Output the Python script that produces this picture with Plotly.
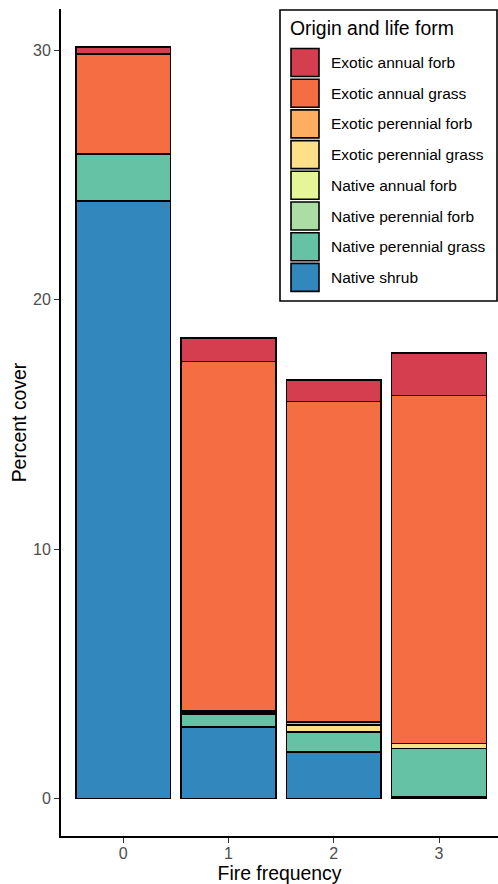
import plotly.graph_objects as go

# Fire frequency classes
fire_freq = ["0", "1", "2", "3"]

# Percent cover by origin and life form (legend order, top of stack first)
groups = [
    "Exotic annual forb",
    "Exotic annual grass",
    "Exotic perennial forb",
    "Exotic perennial grass",
    "Native annual forb",
    "Native perennial forb",
    "Native perennial grass",
    "Native shrub",
]
exotic_annual_forb = [0.29, 0.95, 0.88, 1.70]
exotic_annual_grass = [4.00, 14.00, 12.84, 13.96]
exotic_perennial_forb = [0.00, 0.04, 0.12, 0.00]
exotic_perennial_grass = [0.00, 0.05, 0.29, 0.20]
native_annual_forb = [0.00, 0.00, 0.00, 0.00]
native_perennial_forb = [0.02, 0.04, 0.00, 0.00]
native_perennial_grass = [1.88, 0.53, 0.79, 1.95]
native_shrub = [23.95, 2.86, 1.87, 0.05]

values = [
    exotic_annual_forb,
    exotic_annual_grass,
    exotic_perennial_forb,
    exotic_perennial_grass,
    native_annual_forb,
    native_perennial_forb,
    native_perennial_grass,
    native_shrub,
]
colors = ["#D53E4F", "#F46D43", "#FDAE61", "#FEE08B",
          "#E6F598", "#ABDDA4", "#66C2A5", "#3288BD"]

W, H = 498, 884
L, R, T, B = 61, 0, 9, 48
font = "Liberation Sans, Arial, sans-serif"
text_size = 15.5
tick_size = 16
title_size = 19.4

fig = go.Figure()
# bottom of the stack first
for name, vals, col in reversed(list(zip(groups, values, colors))):
    fig.add_trace(go.Bar(
        x=fire_freq, y=vals, name=name, width=0.9,
        marker=dict(color=col, line=dict(color="black", width=1.6)),
        showlegend=False,
    ))

# pixel -> paper helpers for the legend box
pw, ph = W - L - R, H - T - B
def px(x):
    return (x - L) / pw
def py(y):
    return 1 - (y - T) / ph

shapes = [dict(type="rect", xref="paper", yref="paper",
               x0=px(280), x1=px(497), y0=py(301), y1=py(10),
               line=dict(color="black", width=1.6), fillcolor="white")]
annotations = [dict(text="Origin and life form", xref="paper", yref="paper",
                    x=px(288), y=py(28), xanchor="left", yanchor="middle",
                    showarrow=False, font=dict(family=font, size=title_size, color="black"))]
for i, (name, col) in enumerate(zip(groups, colors)):
    top = 48.5 + 30.7 * i
    shapes.append(dict(type="rect", xref="paper", yref="paper",
                       x0=px(291), x1=px(319), y0=py(top + 28), y1=py(top),
                       line=dict(color="black", width=1.6), fillcolor=col))
    annotations.append(dict(text=name, xref="paper", yref="paper",
                            x=px(329), y=py(top + 14), xanchor="left", yanchor="middle",
                            showarrow=False, font=dict(family=font, size=text_size, color="black")))

fig.update_layout(
    width=W, height=H,
    margin=dict(l=L, r=R, t=T, b=B),
    barmode="stack",
    bargap=0.1,
    plot_bgcolor="white",
    paper_bgcolor="white",
    font=dict(family=font),
    shapes=shapes,
    annotations=annotations,
    xaxis=dict(
        type="category", range=[-0.59, 3.56],
        showline=True, linecolor="black", linewidth=1.8,
        ticks="outside", ticklen=5, tickwidth=1.3, tickcolor="#333333",
        ticklabelstandoff=-3,
        tickfont=dict(size=tick_size, color="#4D4D4D"),
        title=dict(text="Fire frequency", font=dict(size=title_size, color="black"), standoff=4),
        showgrid=False, zeroline=False,
    ),
    yaxis=dict(
        range=[-1.51, 31.66],
        tickvals=[0, 10, 20, 30],
        showline=True, linecolor="black", linewidth=1.8,
        ticks="outside", ticklen=5, tickwidth=1.3, tickcolor="#333333",
        tickfont=dict(size=tick_size, color="#4D4D4D"),
        title=dict(text="Percent cover", font=dict(size=title_size, color="black"), standoff=1),
        showgrid=False, zeroline=False,
    ),
)

fig.write_html("out.html")
